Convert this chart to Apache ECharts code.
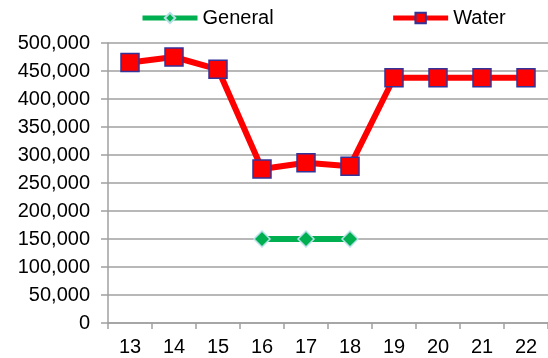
<!DOCTYPE html>
<html>
<head>
<meta charset="utf-8">
<script src="https://cdn.jsdelivr.net/npm/echarts@6/dist/echarts.min.js"></script>
<style>
  html, body { margin: 0; padding: 0; background: #fff; }
  #chart { width: 548px; height: 358px; }
</style>
</head>
<body>
<div id="chart"></div>
<script>
// Categories along the x axis
const categories = ['13', '14', '15', '16', '17', '18', '19', '20', '21', '22'];
// Series values (null where a series has no value)
const generalValues = [null, null, null, 150000, 150000, 150000, null, null, null, null];
const waterValues = [465000, 475000, 453000, 275000, 286000, 280000, 438000, 438000, 438000, 438000];
// Value axis range
const yMin = 0;
const yMax = 500000;
const yStep = 50000;

const font = 'Liberation Sans, Arial, sans-serif';
const gray = '#a0a0a0';

const chart = echarts.init(document.getElementById('chart'), null, { renderer: 'canvas' });
chart.setOption({
  animation: false,
  backgroundColor: '#ffffff',
  legend: {
    top: 3,
    left: 135,
    itemWidth: 55,
    itemHeight: 13,
    itemGap: 117,
    textStyle: { fontFamily: font, fontSize: 20, color: '#000' },
    data: [
      { name: 'General', lineStyle: { width: 5 } },
      { name: 'Water', lineStyle: { width: 5 } }
    ]
  },
  grid: { left: 108, top: 43, width: 446, height: 280, containLabel: false },
  xAxis: {
    type: 'category',
    data: categories,
    boundaryGap: true,
    axisLine: { lineStyle: { color: gray, width: 1.5 } },
    axisTick: { show: true, alignWithLabel: false, length: 6, lineStyle: { color: gray, width: 1.5 } },
    axisLabel: { fontFamily: font, fontSize: 20, color: '#000', margin: 14 },
    splitLine: { show: false }
  },
  yAxis: {
    type: 'value',
    min: yMin,
    max: yMax,
    interval: yStep,
    axisLine: { show: true, lineStyle: { color: gray, width: 1.5 } },
    axisTick: { show: true, length: 7, lineStyle: { color: gray, width: 1.5 } },
    axisLabel: {
      fontFamily: font, fontSize: 20, color: '#000', margin: 18,
      formatter: v => v.toLocaleString('en-US')
    },
    splitLine: { show: true, lineStyle: { color: gray, width: 1.5 } }
  },
  series: [
    {
      name: 'General',
      type: 'line',
      data: generalValues,
      connectNulls: false,
      symbol: 'diamond',
      symbolSize: 16,
      itemStyle: { color: '#00b050', borderColor: '#b8e0e8', borderWidth: 1.5 },
      lineStyle: { color: '#00b050', width: 6 },
      z: 3
    },
    {
      name: 'Water',
      type: 'line',
      data: waterValues,
      symbol: 'rect',
      symbolSize: 18,
      itemStyle: { color: '#ff0000', borderColor: '#333399', borderWidth: 1.5 },
      lineStyle: { color: '#ff0000', width: 6 },
      z: 4
    }
  ]
});
</script>
</body>
</html>
